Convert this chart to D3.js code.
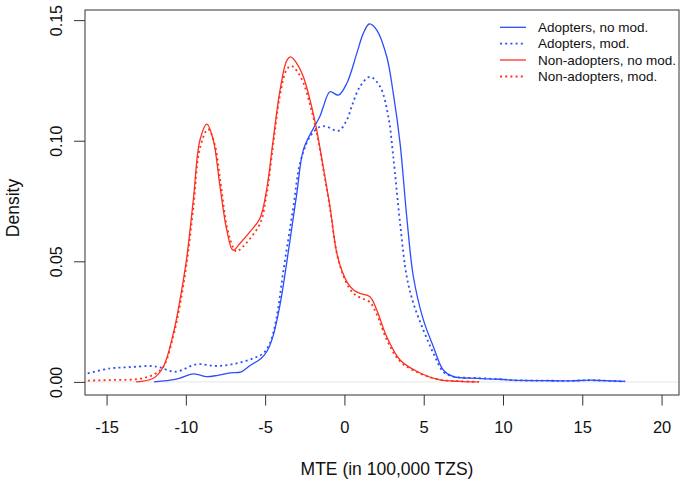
<!DOCTYPE html>
<html>
<head>
<meta charset="utf-8">
<script src="https://cdn.jsdelivr.net/npm/d3@7"></script>
<style>
  html, body { margin: 0; padding: 0; background: #fff; }
  svg { display: block; font-family: "Liberation Sans", Arial, Helvetica, sans-serif; }
</style>
</head>
<body>
<svg id="chart" width="685" height="482"></svg>
<script>
// ---- data ----
const adoptNoModX = [-12.01,-11.0,-10.37,-9.9,-9.53,-9.1,-8.7,-8.0,-7.2,-6.5,-5.95,-5.3,-4.9,-4.5,-4.06,-3.43,-3.0,-2.59,-1.96,-1.55,-1.33,-0.91,-0.38,0.15,0.78,1.19,1.57,2.04,2.67,3.08,3.51,3.93,4.35,4.98,5.61,6.24,6.87,8.34,9.81,10.63,12.76,14.23,15.5,16.4,17.7];
const adoptNoModY = [0,0.0007,0.0016,0.0027,0.0033,0.0028,0.0022,0.0027,0.0037,0.0042,0.0068,0.0095,0.0125,0.019,0.032,0.0588,0.0782,0.0962,0.1051,0.110,0.1141,0.1203,0.1189,0.1238,0.1362,0.1445,0.1484,0.1459,0.1348,0.1197,0.0989,0.0685,0.0436,0.0257,0.0146,0.0049,0.0022,0.0015,0.0011,0.0007,0.0005,0.00045,0.0007,0.0005,0.0002];

const adoptModX = [-16.5,-14.78,-13.52,-12.15,-11.63,-10.68,-9.31,-8.05,-6.79,-5.74,-5.11,-4.7,-4.3,-3.85,-3.22,-2.8,-2.17,-1.54,-1.12,-0.38,0.15,0.5,0.98,1.61,2.25,2.77,3.08,3.51,3.93,4.35,4.98,5.61,6.24,6.87,8.34,9.81,10.63,12.76,14.23,15.5,16.4,17.7];
const adoptModY = [0.003,0.0056,0.0061,0.0066,0.006,0.0042,0.0073,0.0066,0.0077,0.0098,0.0119,0.016,0.026,0.046,0.0726,0.0906,0.1017,0.1058,0.1058,0.1041,0.1086,0.115,0.1224,0.1265,0.1224,0.11,0.0934,0.0658,0.0436,0.0326,0.0215,0.0119,0.0042,0.0022,0.0016,0.0011,0.0007,0.0005,0.00045,0.0007,0.0005,0.0002];

const nonNoModX = [-13.14,-12.05,-11.42,-10.79,-10.37,-9.95,-9.53,-9.11,-8.67,-8.27,-7.85,-7.42,-7.03,-6.58,-5.95,-5.32,-4.9,-4.48,-4.06,-3.64,-3.39,-3.01,-2.59,-2.17,-1.75,-1.34,-0.91,-0.49,-0.15,0.25,0.6,0.98,1.61,2.04,2.67,3.51,4.77,6.03,7.29,8.34];
const nonNoModY = [0,0.0015,0.0063,0.0201,0.034,0.0512,0.0754,0.1003,0.1069,0.1003,0.0812,0.063,0.0546,0.0575,0.0623,0.068,0.08,0.101,0.121,0.1332,0.1348,0.1321,0.1265,0.1169,0.1045,0.0892,0.0726,0.0537,0.046,0.0405,0.038,0.0367,0.0353,0.0298,0.0187,0.0091,0.0037,0.0008,0.0002,0];

const nonModX = [-16.5,-14.5,-13.0,-12.05,-11.42,-10.79,-10.37,-9.95,-9.53,-9.11,-8.6,-8.2,-7.8,-7.4,-7.0,-6.8,-6.5,-6.0,-5.3,-4.9,-4.48,-4.06,-3.64,-3.34,-3.0,-2.59,-2.17,-1.75,-1.34,-0.91,-0.49,-0.15,0.25,0.6,0.98,1.61,2.04,2.67,3.51,4.77,6.03,7.29,8.5];
const nonModY = [0.0005,0.0008,0.0012,0.003,0.0063,0.019,0.032,0.049,0.072,0.097,0.1048,0.099,0.082,0.064,0.0555,0.054,0.0555,0.059,0.066,0.078,0.099,0.119,0.1295,0.131,0.129,0.124,0.115,0.1035,0.0885,0.072,0.0535,0.0455,0.0395,0.0365,0.035,0.033,0.028,0.0175,0.0085,0.0035,0.0009,0.0003,0];

const xTicks = [-15, -10, -5, 0, 5, 10, 15, 20];
const yTicks = [0, 0.05, 0.10, 0.15];
const yTickLabels = ["0.00", "0.05", "0.10", "0.15"];
const seriesNames = ["Adopters, no mod.", "Adopters, mod.", "Non-adopters, no mod.", "Non-adopters, mod."];
const seriesColors = ["#2a4dff", "#2a4dff", "#ff3020", "#ff3020"];
const seriesDotted = [false, true, false, true];
const xTitle = "MTE (in 100,000 TZS)";
const yTitle = "Density";

// ---- layout ----
const box = { left: 85, right: 679, top: 10, bottom: 395 };
const svg = d3.select("#chart");

const x = d3.scaleLinear().domain([-16.36, 21.1]).range([box.left, box.right]);
const y = d3.scaleLinear().domain([-0.00543, 0.1542]).range([box.bottom, box.top]);

svg.append("defs").append("clipPath").attr("id", "clip")
  .append("rect").attr("x", box.left).attr("y", box.top)
  .attr("width", box.right - box.left).attr("height", box.bottom - box.top);

// zero line
svg.append("line")
  .attr("x1", box.left).attr("x2", box.right)
  .attr("y1", y(0)).attr("y2", y(0))
  .attr("stroke", "#e6e6e6").attr("stroke-width", 1);

const seriesX = [adoptNoModX, adoptModX, nonNoModX, nonModX];
const seriesY = [adoptNoModY, adoptModY, nonNoModY, nonModY];

const line = d3.line().x(d => x(d[0])).y(d => y(d[1])).curve(d3.curveCatmullRom.alpha(0.5));

const g = svg.append("g").attr("clip-path", "url(#clip)");
seriesX.forEach((xs, i) => {
  const pts = xs.map((v, j) => [v, seriesY[i][j]]);
  g.append("path")
    .attr("d", line(pts))
    .attr("fill", "none")
    .attr("stroke", seriesColors[i])
    .attr("stroke-width", seriesDotted[i] ? 1.8 : 1.3)
    .attr("stroke-dasharray", seriesDotted[i] ? "2,3.2" : null);
});

// box
svg.append("rect")
  .attr("x", box.left).attr("y", box.top)
  .attr("width", box.right - box.left).attr("height", box.bottom - box.top)
  .attr("fill", "none").attr("stroke", "#333").attr("stroke-width", 1);

// x axis
const xAxis = d3.axisBottom(x).tickValues(xTicks).tickSize(10.5).tickPadding(16).tickFormat(d3.format("d"));
const gx = svg.append("g").attr("transform", `translate(0,${box.bottom})`).call(xAxis);
gx.select(".domain").remove();
gx.selectAll(".tick line").attr("stroke", "#333");
gx.selectAll(".tick text").attr("font-size", "16.5px").attr("fill", "#111")
  .attr("font-family", "'Liberation Sans', Arial, sans-serif")
  .text(d => d < 0 ? "-" + Math.abs(d) : String(d));

// y axis
const yAxis = d3.axisLeft(y).tickValues(yTicks).tickSize(11).tickFormat((d, i) => yTickLabels[i]);
const gy = svg.append("g").attr("transform", `translate(${box.left},0)`).call(yAxis);
gy.select(".domain").remove();
gy.selectAll(".tick line").attr("stroke", "#333");
gy.selectAll(".tick text")
  .attr("font-size", "16px").attr("fill", "#111")
  .attr("font-family", "'Liberation Sans', Arial, sans-serif")
  .attr("text-anchor", "middle")
  .attr("dy", null)
  .attr("x", null)
  .attr("transform", "translate(-23.5,0) rotate(-90)");

// axis titles
svg.append("text")
  .attr("x", 387).attr("y", 475)
  .attr("text-anchor", "middle")
  .attr("font-size", "17.5px").attr("fill", "#111")
  .text(xTitle);

svg.append("text")
  .attr("transform", "translate(19,208) rotate(-90)")
  .attr("text-anchor", "middle")
  .attr("font-size", "17.5px").attr("fill", "#111")
  .text(yTitle);

// legend
const legRows = [27.3, 43.6, 60, 76.5];
const leg = svg.append("g");
seriesNames.forEach((name, i) => {
  leg.append("line")
    .attr("x1", 500).attr("x2", 526)
    .attr("y1", legRows[i]).attr("y2", legRows[i])
    .attr("stroke", seriesColors[i])
    .attr("stroke-width", seriesDotted[i] ? 1.8 : 1.3)
    .attr("stroke-dasharray", seriesDotted[i] ? "2,3.2" : null);
  leg.append("text")
    .attr("x", 538).attr("y", legRows[i])
    .attr("dominant-baseline", "central")
    .attr("font-size", "13.5px").attr("fill", "#111")
    .text(name);
});
</script>
</body>
</html>
